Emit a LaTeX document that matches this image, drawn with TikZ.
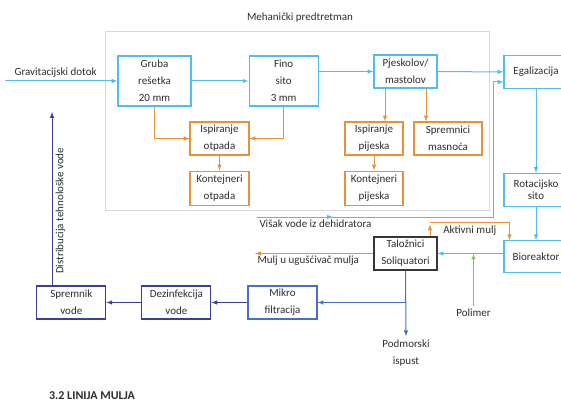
\documentclass[tikz,border=0pt]{standalone}
\usepackage{fontspec}
\setmainfont{Carlito}
\usepackage{xcolor}
\usepackage{tikz}
\usetikzlibrary{calc}
\usetikzlibrary{positioning}
\definecolor{flowblue}{RGB}{80,190,236}
\definecolor{wasteorange}{RGB}{230,146,60}
\definecolor{reusenavy}{RGB}{62,62,150}
\definecolor{pipeblue}{RGB}{72,110,200}
\definecolor{polygreen}{RGB}{128,200,90}
\definecolor{framegray}{RGB}{216,216,216}
\definecolor{boxdark}{RGB}{55,55,55}
\definecolor{textgray}{RGB}{45,45,45}

\begin{document}
\begin{tikzpicture}[x=1pt,y=-1pt,font=\fontsize{11}{17}\selectfont,text=textgray]
		\tikzstyle{stage} = [draw=flowblue, line width=1.1pt, minimum width=64pt, minimum height=33pt, align=center, inner sep=1pt]
		\tikzstyle{waste} = [draw=wasteorange, line width=1.1pt, minimum height=33pt, align=center, inner sep=1pt]
		\tikzstyle{settler} = [draw=boxdark, line width=1.1pt, minimum width=63pt, minimum height=33pt, align=center, inner sep=1pt]
		\tikzstyle{reuse} = [draw=reusenavy, line width=1.1pt, minimum width=69pt, minimum height=33pt, align=center, inner sep=1pt]
		\tikzstyle{flow} = [draw=flowblue, line width=1pt, -latex]
		\tikzstyle{sludge} = [draw=wasteorange, line width=1pt, -latex]
		\tikzstyle{water} = [draw=reusenavy, line width=1pt, -latex]
		\tikzstyle{outfall} = [draw=pipeblue, line width=1pt, -latex]
		\tikzstyle{frame} = [draw=framegray, line width=0.8pt]

		\useasboundingbox (0,0) rectangle (561,403);

		\node (Naslov) at (300,18) {Mehanički predtretman};
		\draw[frame] (105,31) rectangle (489,210);

		\node[stage, minimum width=73pt, minimum height=50pt] (Gruba) at (154.5,81) {Gruba\\rešetka\\20 mm};
		\node[stage, minimum width=69pt, minimum height=50pt, right=57pt of Gruba] (Fino) {Fino\\sito\\3 mm};
		\node[stage, minimum width=63pt] (Pjeskolov) at (405.5,71.5) {Pjeskolov/\\mastolov};
		\node[stage] (Egalizacija) at (536,72) {Egalizacija};
		\node[stage, below=84pt of Egalizacija, font=\fontsize{11}{12}\selectfont] (Rotacijsko) {Rotacijsko\\sito};
		\node[stage, minimum height=32pt, below=33pt of Rotacijsko] (Bioreaktor) {Bioreaktor};

		\node[waste, minimum width=59pt] (IspOtpada) at (219.5,138.5) {Ispiranje\\otpada};
		\node[waste, minimum width=59pt, minimum height=34pt, below=15pt of IspOtpada] (KontOtpada) {Kontejneri\\otpada};
		\node[waste, minimum width=58pt] (IspPijeska) at (374,138.5) {Ispiranje\\pijeska};
		\node[waste, minimum width=58pt, minimum height=34pt, below=15pt of IspPijeska] (KontPijeska) {Kontejneri\\pijeska};
		\node[waste, minimum width=68pt] (Spremnici) at (448,138.5) {Spremnici\\masnoća};

		\node[settler] (Taloznici) at (405.5,253.5) {Taložnici\\Soliquatori};
		\node[reuse, draw=pipeblue] (Mikro) at (282.5,302.5) {Mikro\\filtracija};
		\node[reuse, left=36pt of Mikro] (Dezinfekcija) {Dezinfekcija\\vode};
		\node[reuse, left=35pt of Dezinfekcija] (Spremnik) {Spremnik\\vode};

		\node (Polimer) at (473.5,313) {Polimer};
		\node[align=center] (Podmorski) at (406,353) {Podmorski\\ispust};
		\node[font=\fontsize{12}{14}\selectfont\bfseries] (Linija) at (92,396) {3.2 LINIJA MULJA};

		\coordinate (dotok) at (5,81);
		\coordinate (visak) at (257,217);
		\coordinate (visakKut) at (493,217);
		\coordinate (mulj) at (255,253.5);
		\coordinate (distrib) at (52,112);
		\coordinate (pA) at ([xshift=-20.5pt]Pjeskolov.south);
		\coordinate (pB) at ([xshift=20.5pt]Pjeskolov.south);
		\coordinate (aktivni) at ([xshift=24.5pt]Taloznici.north);
		\coordinate (aktivniKut) at ([yshift=14pt]aktivni);

		\draw[flow] (dotok) -- (Gruba.west) node[pos=0.45, above] {Gravitacijski dotok};
		\draw[flow] (Gruba) -- (Fino);
		\draw[flow] (Pjeskolov.west -| Fino.east) -- (Pjeskolov.west);
		\draw[flow] (Pjeskolov) -- (Egalizacija);
		\draw[flow] (Egalizacija) -- (Rotacijsko);
		\draw[flow] (Rotacijsko) -- (Bioreaktor);
		\draw[flow] (visak) -- (333,217);
		\draw[flow] (visak) node[below right, inner sep=2pt] {Višak vode iz dehidratora} -- (visakKut) |- ([yshift=-10pt]Egalizacija.west);
		\draw[flow] (Bioreaktor.west |- Taloznici.east) -- (Taloznici.east);

		\draw[sludge] (Gruba.south) |- (IspOtpada.west);
		\draw[sludge] (Fino.south) |- (IspOtpada.east);
		\draw[sludge] (IspOtpada) -- (KontOtpada);
		\draw[sludge] (pA) -- (pA |- IspPijeska.north);
		\draw[sludge] (pB) -- (pB |- Spremnici.north);
		\draw[sludge] (IspPijeska) -- (KontPijeska);
		\draw[sludge] (Taloznici.west) -- (mulj) node[pos=1, below right, inner sep=2pt] {Mulj u ugušćivač mulja};
		\draw[sludge] (aktivni) -- ([yshift=-2pt]aktivniKut);
		\draw[sludge] (aktivniKut) -| ([xshift=6pt]Bioreaktor.north west) node[pos=0.25, below] {Aktivni mulj};

		\draw[draw=polygreen, line width=1pt, -latex] (Polimer.north) -- (Polimer.north |- Taloznici.east);

		\draw[outfall] (Taloznici.south) -- (Podmorski.north);
		\draw[outfall] (Taloznici.south |- Mikro.east) -- (Mikro.east);
		\draw[water] (Mikro) -- (Dezinfekcija);
		\draw[water] (Dezinfekcija) -- (Spremnik);
		\draw[water] (distrib |- Spremnik.north) -- (distrib) node[pos=0.43, sloped, below] {Distribucija tehnološke vode};

	\end{tikzpicture}
\end{document}
